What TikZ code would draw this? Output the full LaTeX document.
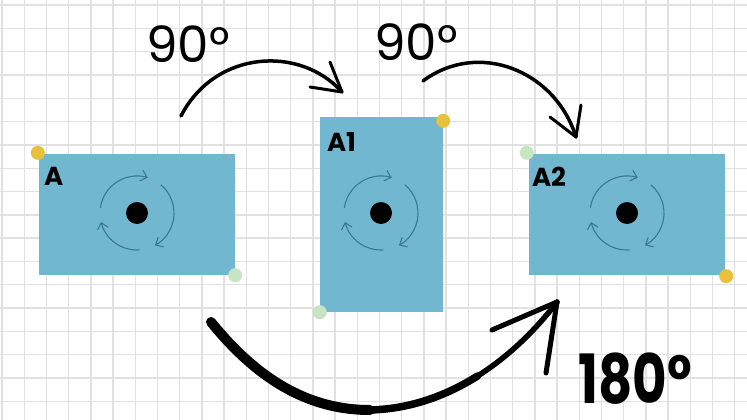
\documentclass[tikz,border=0pt]{standalone}
\usepackage{fontspec}
\setmainfont{Poppins}
\usetikzlibrary{arrows.meta,calc}
\definecolor{boxblue}{RGB}{114,183,208}
\definecolor{gridgray}{RGB}{225,225,225}
\definecolor{dotyellow}{RGB}{233,192,58}
\definecolor{dotgreen}{RGB}{198,229,192}
\definecolor{iconblue}{RGB}{58,120,150}
\tikzset{
  panel/.style={fill=boxblue, draw=none, inner sep=0pt},
  cornerdot/.style={circle, inner sep=0pt, minimum size=14pt, draw=none},
  pivot/.style={circle, fill=black, inner sep=0pt, minimum size=22pt},
  boxlabel/.style={font=\fontsize{26}{26}\selectfont\bfseries, inner sep=0pt, anchor=north west},
  turnarc/.style={draw=iconblue, line width=1.1pt, -{Straight Barb[length=6pt,width=11pt]}},
  hand/.style={line width=3.5pt, line cap=round},
  barb/.style={line width=3pt, line cap=round},
  handtext/.style={font=\fontsize{50}{50}\selectfont, inner sep=0pt},
}
\newcommand\rotmark[1]{%
  \draw[turnarc] ($(#1)+(-172:37)$) arc[start angle=-172, end angle=-73, radius=37];
  \draw[turnarc] ($(#1)+(-50:37)$) arc[start angle=-50, end angle=61, radius=37];
  \draw[turnarc] ($(#1)+(86:37)$) arc[start angle=86, end angle=166, radius=37];
}
\begin{document}
\begin{tikzpicture}[x=1pt,y=-1pt]
\useasboundingbox (0,0) rectangle (747,420);
\fill[white] (0,0) rectangle (747,420);
% grid
\foreach \i in {0,...,33} \draw[gridgray, line width=1.4pt] (2+22.2*\i,0) -- (2+22.2*\i,420);
\foreach \j in {0,...,18} \draw[gridgray, line width=1.4pt] (0,5.1+23.3*\j) -- (747,5.1+23.3*\j);

% panels
\node[panel, minimum width=196pt, minimum height=121pt] (A) at (137,214.5) {};
\node[panel, minimum width=123pt, minimum height=195pt] (A1) at (381.5,214.5) {};
\node[panel, minimum width=196pt, minimum height=121pt] (A2) at (627,214.5) {};

\node[boxlabel] (lA) at ($(A.north west)+(5,13)$) {A};
\node[boxlabel] (lA1) at ($(A1.north west)+(7,16)$) {A1};
\node[boxlabel] (lA2) at ($(A2.north west)+(3,13)$) {A2};

% corner dots
\node[cornerdot, fill=dotyellow] (yA) at ($(A.north west)+(-1,-1)$) {};
\node[cornerdot, fill=dotgreen] (gA) at (A.south east) {};
\node[cornerdot, fill=dotyellow] (yA1) at ($(A1.north east)+(0,4)$) {};
\node[cornerdot, fill=dotgreen] (gA1) at (A1.south west) {};
\node[cornerdot, fill=dotgreen] (gA2) at ($(A2.north west)+(-2,-1)$) {};
\node[cornerdot, fill=dotyellow] (yA2) at ($(A2.south east)+(1,1)$) {};

% pivots and rotation marks
\node[pivot] (cA) at (137,213) {};
\node[pivot] (cA1) at (381,213) {};
\node[pivot] (cA2) at (627,213) {};
\rotmark{cA}
\rotmark{cA1}
\rotmark{cA2}

% arrow 1
\coordinate (s1) at (181,116);
\coordinate (t1) at (342,92);
\draw[hand] (s1) .. controls (215,50) and (300,45) .. (t1);
\draw[barb] (t1) -- ++(-32,-5);
\draw[barb] (t1) -- ++(-12,-30);
\node[handtext] (n1) at (188,44) {90°};

% arrow 2
\coordinate (s2) at (423,81);
\coordinate (t2) at (576,137);
\draw[hand] (s2) .. controls (478,40) and (555,70) .. (t2);
\draw[barb] (t2) -- ++(-26,-20);
\draw[barb] (t2) -- ++(5,-32);
\node[handtext] (n2) at (416,42) {90°};

% arrow 3 (thick, tapering)
\coordinate (s3) at (211,322);
\coordinate (m3) at (370,410);
\coordinate (q3) at (477.75,375.875);
\coordinate (t3) at (557,302);
\draw[line width=10pt, line cap=round] (s3) .. controls (250,370) and (300,410) .. (m3);
\draw[line width=7.5pt, line cap=round] (m3) .. controls (410,409) and (446.25,395.75) .. (q3);
\draw[line width=5.5pt, line cap=round] (q3) .. controls (509.25,356) and (536,329.5) .. (t3);
\draw[line width=5pt, line cap=round] (t3) -- ++(-65,28);
\draw[line width=5pt, line cap=round] (t3) -- ++(-11,71);
\node[handtext, font=\fontsize{68}{68}\selectfont\bfseries, xscale=0.78, anchor=base west, text depth=0pt] (n3) at (578,403) {180°};
\end{tikzpicture}
\end{document}
